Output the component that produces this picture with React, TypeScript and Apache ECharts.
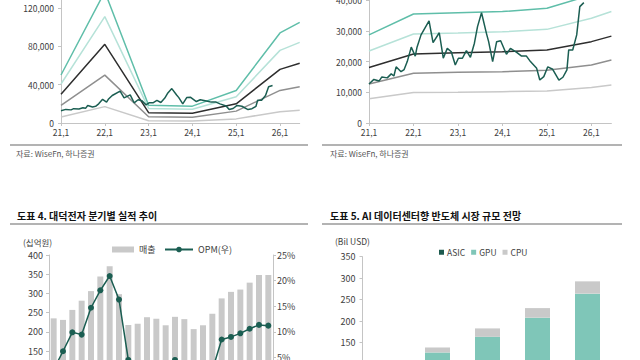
import React, { useEffect, useRef } from "react";
import * as echarts from "echarts";

// ---- Top charts: band lines (annual points) ----
const BAND_X = [21, 22, 23, 24, 25, 26, 26.45];
// Top-left (PER band)
const PER_TEAL = [50100, 137000, 18600, 17600, 34000, 94000, 105000];
const PER_LTEAL = [40700, 111000, 15200, 14400, 27300, 75800, 84200];
const PER_BLACK = [29900, 82100, 10800, 10200, 20000, 56000, 62300];
const PER_GRAY = [18400, 50000, 6500, 6100, 12400, 34000, 37800];
const PER_LGRAY = [6300, 17100, 2300, 2200, 4300, 11800, 13300];
// Top-right (PBR band)
const PBR_TEAL = [28700, 35500, 35900, 36300, 37400, 41700, 43500];
const PBR_LTEAL = [23450, 29000, 29300, 29700, 30500, 34100, 36300];
const PBR_BLACK = [18100, 22500, 22900, 23200, 23800, 26500, 28300];
const PBR_GRAY = [12700, 16200, 16500, 16700, 17200, 18900, 20500];
const PBR_LGRAY = [7900, 9900, 10000, 10200, 10400, 11600, 12400];
// Share price
const PRICE_X = [
  21.0, 21.11, 21.23, 21.29, 21.41, 21.5, 21.56, 21.61, 21.72, 21.79, 21.86, 21.95,
  22.04, 22.08, 22.17, 22.35, 22.44, 22.58, 22.67, 22.76, 22.85, 22.94, 23.01, 23.1,
  23.19, 23.28, 23.37, 23.44, 23.53, 23.64, 23.69, 23.78, 23.87, 23.96, 24.09, 24.18,
  24.32, 24.43, 24.54, 24.63, 24.77, 24.84, 24.93, 25.02, 25.13, 25.27, 25.36, 25.45,
  25.49, 25.58, 25.67, 25.74, 25.83,
];
const PRICE_Y = [
  12700, 14200, 13700, 15000, 14700, 16000, 15300, 18300, 16700, 17400, 20000, 24700,
  21800, 24700, 28700, 33300, 26200, 29400, 21100, 24300, 23200, 18900, 21100, 21100,
  23600, 21400, 26000, 31400, 35900, 29200, 26500, 20000, 26500, 26800, 22400, 24300,
  23000, 21800, 21800, 20000, 17800, 14000, 15100, 18300, 17500, 14000, 14900, 17300,
  23800, 23800, 28700, 37900, 39200,
];
const TOP_X_LABELS = ["21,1", "22,1", "23,1", "24,1", "25,1", "26,1"];

// ---- Bottom-left: quarterly results ----
const QUARTERS = [
  "1Q20", "2Q20", "3Q20", "4Q20", "1Q21", "2Q21", "3Q21", "4Q21",
  "1Q22", "2Q22", "3Q22", "4Q22", "1Q23", "2Q23", "3Q23", "4Q23",
  "1Q24", "2Q24", "3Q24", "4Q24", "1Q25", "2Q25", "3Q25", "4Q25",
];
const SALES = [
  235, 231, 257, 281, 306, 344, 371, 298, 218, 221, 238, 234,
  217, 239, 233, 207, 217, 247, 287, 304, 310, 328, 348, 348,
];
const OPM = [
  2.6, 6.2, 9.9, 9.45, 14.7, 18.1, 20.9, 16.3, 4.5, 1.5, 2.5, 2.0,
  1.0, 4.5, 2.0, -1.5, 1.0, 2.5, 8.5, 9.0, 9.7, 10.6, 11.35, 11.2,
];

// ---- Bottom-right: AI datacenter semiconductor market ----
const YEARS_B = ["2023", "2024", "2025F", "2026F", "2027F"];
const ASIC = [5, 13, 20, 30, 40];
const GPU = [60, 114, 143.5, 178, 224];
const CPU = [8, 11.6, 19.5, 22.3, 28.6];

const FONT = "'Noto Sans CJK KR', 'Noto Sans', sans-serif";
const AXIS_COLOR = "#c4c4c4";
const LABEL_COLOR = "#404040";
// The chart canvas is taller than the page and shifted up, so grids may extend past the visible edges.
const OFF = 40;
const CANVAS_H = 470;

const zip = (xs: number[], ys: number[]) => xs.map((x, i) => [x, ys[i]]);
const comma = (v: number) => String(v).replace(/\B(?=(\d{3})+(?!\d))/g, ",");

export default function App() {
  const ref = useRef<HTMLDivElement>(null);
  useEffect(() => {
    if (!ref.current) return;
    const chart = echarts.init(ref.current, undefined, { renderer: "svg" });

    const bandLine = (name: string, data: number[], color: string, gi: number) => ({
      name,
      type: "line",
      xAxisIndex: gi,
      yAxisIndex: gi,
      data: zip(BAND_X, data),
      showSymbol: false,
      symbol: "none",
      lineStyle: { color, width: 1.5 },
      silent: true,
    });

    const topX = (gi: number) => ({
      type: "value",
      gridIndex: gi,
      min: 21,
      max: 26.45,
      interval: 1,
      axisLine: { show: true, lineStyle: { color: AXIS_COLOR } },
      axisTick: { show: true, length: 3, lineStyle: { color: AXIS_COLOR } },
      splitLine: { show: false },
      axisLabel: {
        color: LABEL_COLOR,
        fontSize: 8.5,
        fontFamily: FONT,
        margin: 5,
        showMaxLabel: false,
        formatter: (v: number) => TOP_X_LABELS[Math.round(v) - 21] ?? "",
      },
    });

    const topY = (gi: number, max: number, interval: number) => ({
      type: "value",
      gridIndex: gi,
      min: 0,
      max,
      interval,
      axisLine: { show: true, lineStyle: { color: AXIS_COLOR } },
      axisTick: { show: true, length: 3, lineStyle: { color: AXIS_COLOR } },
      splitLine: { show: false },
      axisLabel: {
        color: LABEL_COLOR,
        fontSize: 8.5,
        fontFamily: FONT,
        margin: 7,
        showMaxLabel: false,
        formatter: (v: number) => comma(v),
      },
    });

    const hline = (x1: number, x2: number, y: number) => ({
      type: "line",
      shape: { x1, y1: y + OFF, x2, y2: y + OFF },
      style: { stroke: "#b3b3b3", lineWidth: 2 },
    });

    const txt = (x: number, y: number, text: string, fontSize: number, fill: string, bold = false) => ({
      type: "text",
      x,
      y: y + OFF,
      style: {
        text,
        fontSize,
        fill,
        fontFamily: FONT,
        fontWeight: bold ? "bold" : "normal",
        verticalAlign: "middle",
      },
    });

    const option: any = {
      animation: false,
      backgroundColor: "#ffffff",
      textStyle: { fontFamily: FONT },
      grid: [
        { left: 61, top: -30.3 + OFF, width: 238.7, height: 153.3 },
        { left: 369, top: -30.5 + OFF, width: 242.4, height: 153.5 },
        { left: 49, top: 255 + OFF, width: 224, height: 153.6 },
        { left: 362.5, top: 256.7 + OFF, width: 250, height: 150.3 },
      ],
      legend: [
        {
          data: ["매출"],
          left: 107,
          top: 240 + OFF,
          itemWidth: 22,
          itemHeight: 6,
          icon: "rect",
          textStyle: { fontSize: 9, color: LABEL_COLOR, fontFamily: FONT },
          selectedMode: false,
        },
        {
          data: ["OPM(우)"],
          left: 159,
          top: 240 + OFF,
          itemWidth: 28,
          itemHeight: 7,
          textStyle: { fontSize: 9, color: LABEL_COLOR, fontFamily: FONT },
          selectedMode: false,
        },
        {
          data: ["ASIC", "GPU", "CPU"],
          left: 434,
          top: 243 + OFF,
          itemWidth: 5,
          itemHeight: 5,
          itemGap: 6,
          icon: "rect",
          textStyle: { fontSize: 8.5, color: LABEL_COLOR, fontFamily: FONT, padding: [0, 0, 0, -2] },
          selectedMode: false,
        },
      ],
      xAxis: [
        topX(0),
        topX(1),
        {
          type: "category",
          gridIndex: 2,
          data: QUARTERS,
          axisLine: { show: true, lineStyle: { color: AXIS_COLOR } },
          axisTick: { show: false },
          axisLabel: { show: false },
        },
        {
          type: "category",
          gridIndex: 3,
          data: YEARS_B,
          axisLine: { show: true, lineStyle: { color: AXIS_COLOR } },
          axisTick: { show: false },
          axisLabel: { show: false },
        },
      ],
      yAxis: [
        topY(0, 160000, 40000),
        topY(1, 50000, 10000),
        {
          type: "value",
          gridIndex: 2,
          min: 0,
          max: 400,
          interval: 50,
          axisLine: { show: true, lineStyle: { color: AXIS_COLOR } },
          axisTick: { show: true, length: 3, lineStyle: { color: AXIS_COLOR } },
          splitLine: { show: false },
          axisLabel: { color: LABEL_COLOR, fontSize: 9, fontFamily: FONT, margin: 6 },
        },
        {
          type: "value",
          gridIndex: 2,
          position: "right",
          min: -5,
          max: 25,
          interval: 5,
          axisLine: { show: true, lineStyle: { color: AXIS_COLOR } },
          axisTick: { show: true, length: 3, lineStyle: { color: AXIS_COLOR } },
          splitLine: { show: false },
          axisLabel: {
            color: LABEL_COLOR,
            fontSize: 9,
            fontFamily: FONT,
            margin: 4,
            formatter: (v: number) => `${v}%`,
          },
        },
        {
          type: "value",
          gridIndex: 3,
          min: 0,
          max: 350,
          interval: 50,
          axisLine: { show: true, lineStyle: { color: AXIS_COLOR } },
          axisTick: { show: true, length: 3, lineStyle: { color: AXIS_COLOR } },
          splitLine: { show: false },
          axisLabel: { color: LABEL_COLOR, fontSize: 9, fontFamily: FONT, margin: 7 },
        },
      ],
      series: [
        bandLine("PER5", PER_LGRAY, "#c9c9c9", 0),
        bandLine("PER4", PER_GRAY, "#8f8f8f", 0),
        bandLine("PER3", PER_BLACK, "#2e2e2e", 0),
        bandLine("PER2", PER_LTEAL, "#b6e2d8", 0),
        bandLine("PER1", PER_TEAL, "#5fbea9", 0),
        {
          name: "주가L",
          type: "line",
          xAxisIndex: 0,
          yAxisIndex: 0,
          data: zip(PRICE_X, PRICE_Y),
          showSymbol: false,
          symbol: "none",
          lineStyle: { color: "#1b5e52", width: 1.5 },
          silent: true,
        },
        bandLine("PBR5", PBR_LGRAY, "#c9c9c9", 1),
        bandLine("PBR4", PBR_GRAY, "#8f8f8f", 1),
        bandLine("PBR3", PBR_BLACK, "#2e2e2e", 1),
        bandLine("PBR2", PBR_LTEAL, "#b6e2d8", 1),
        bandLine("PBR1", PBR_TEAL, "#5fbea9", 1),
        {
          name: "주가R",
          type: "line",
          xAxisIndex: 1,
          yAxisIndex: 1,
          data: zip(PRICE_X, PRICE_Y),
          showSymbol: false,
          symbol: "none",
          lineStyle: { color: "#1b5e52", width: 1.5 },
          silent: true,
        },
        {
          name: "매출",
          type: "bar",
          xAxisIndex: 2,
          yAxisIndex: 2,
          data: SALES,
          barWidth: "64%",
          itemStyle: { color: "#c9c9c9" },
          silent: true,
        },
        {
          name: "OPM(우)",
          type: "line",
          xAxisIndex: 2,
          yAxisIndex: 3,
          data: OPM,
          symbol: "circle",
          symbolSize: 6,
          showSymbol: true,
          itemStyle: { color: "#1b5e52" },
          lineStyle: { color: "#1b5e52", width: 1.5 },
          silent: true,
        },
        {
          name: "ASIC",
          type: "bar",
          stack: "ai",
          xAxisIndex: 3,
          yAxisIndex: 4,
          data: ASIC,
          barWidth: "50%",
          itemStyle: { color: "#1d5a4e" },
          silent: true,
        },
        {
          name: "GPU",
          type: "bar",
          stack: "ai",
          xAxisIndex: 3,
          yAxisIndex: 4,
          data: GPU,
          barWidth: "50%",
          itemStyle: { color: "#7fc6b8" },
          silent: true,
        },
        {
          name: "CPU",
          type: "bar",
          stack: "ai",
          xAxisIndex: 3,
          yAxisIndex: 4,
          data: CPU,
          barWidth: "50%",
          itemStyle: { color: "#c9c9c9" },
          silent: true,
        },
      ],
      graphic: [
        hline(10, 308, 145),
        hline(322, 622, 145),
        hline(10, 308, 224),
        hline(322, 622, 224),
        txt(16, 153, "자료: WiseFn, 하나증권", 8, "#555555"),
        txt(330, 153, "자료: WiseFn, 하나증권", 8, "#555555"),
        txt(17, 215, "도표 4. 대덕전자 분기별 실적 추이", 10, "#111111", true),
        txt(330, 215, "도표 5. AI 데이터센터향 반도체 시장 규모 전망", 10, "#111111", true),
        txt(23, 242, "(십억원)", 8.5, LABEL_COLOR),
        txt(335, 241, "(Bil USD)", 8.5, LABEL_COLOR),
      ],
    };

    chart.setOption(option);
    return () => chart.dispose();
  }, []);

  return (
    <div
      style={{
        position: "absolute",
        left: 0,
        top: 0,
        width: 640,
        height: 360,
        overflow: "hidden",
        background: "#fff",
      }}
    >
      <div
        ref={ref}
        style={{ position: "absolute", left: 0, top: -OFF, width: 640, height: CANVAS_H }}
      />
    </div>
  );
}
